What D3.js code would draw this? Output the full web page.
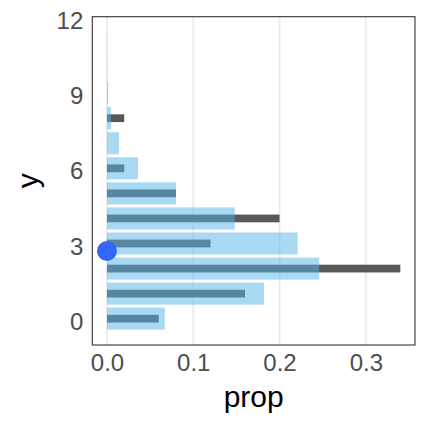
<!DOCTYPE html>
<html>
<head>
<meta charset="utf-8">
<script src="https://cdn.jsdelivr.net/npm/d3@7"></script>
<style>
  body { margin: 0; background: #fff; }
  text { font-family: "Liberation Sans", Arial, sans-serif; }
</style>
</head>
<body>
<div id="chart"></div>
<script>
// counts 0..11
var counts = [0, 1, 2, 3, 4, 5, 6, 7, 8, 9, 10, 11];
// light blue bars (model probabilities)
var modelProp = [0.067, 0.182, 0.246, 0.221, 0.148, 0.080, 0.036, 0.014, 0.0047, 0.0014, 0.0004, 0.0001];
// dark bars (observed proportions)
var obsProp = [0.06, 0.16, 0.34, 0.12, 0.20, 0.08, 0.02, 0, 0.02, 0, 0, 0];
// mean marker
var meanY = [2.7];

var xTicks = [0, 0.1, 0.2, 0.3];
var yTicks = [0, 3, 6, 9, 12];

var W = 432, H = 432;
var margin = {top: 16.7, right: 17, bottom: 87, left: 92.3};

var svg = d3.select('#chart').append('svg')
    .attr('width', W)
    .attr('height', H);

var x = d3.scaleLinear()
    .domain([-0.017, 0.357])
    .range([margin.left, W - margin.right]);

var y = d3.scaleLinear()
    .domain([-1.05, 12.05])
    .range([H - margin.bottom, margin.top]);

var unit = Math.abs(y(1) - y(0));

// vertical grid lines
svg.selectAll('line.grid')
    .data(xTicks)
    .enter()
  .append('line')
    .attr('class', 'grid')
    .attr('x1', function(d) { return x(d); })
    .attr('x2', function(d) { return x(d); })
    .attr('y1', margin.top)
    .attr('y2', H - margin.bottom)
    .attr('stroke', '#ebebeb')
    .attr('stroke-width', 1.8);

// observed bars (narrow, dark)
var obsH = 0.31 * unit;
svg.selectAll('rect.obs')
    .data(counts)
    .enter()
  .append('rect')
    .attr('class', 'obs')
    .attr('x', x(0))
    .attr('y', function(d) { return y(d) - obsH / 2; })
    .attr('width', function(d, i) { return x(obsProp[i]) - x(0); })
    .attr('height', obsH)
    .attr('fill', '#595959');

// model bars (wide, translucent)
var modH = 0.88 * unit;
svg.selectAll('rect.model')
    .data(counts)
    .enter()
  .append('rect')
    .attr('class', 'model')
    .attr('x', x(0))
    .attr('y', function(d) { return y(d) - modH / 2; })
    .attr('width', function(d, i) { return x(modelProp[i]) - x(0); })
    .attr('height', modH)
    .attr('fill', '#56B4E9')
    .attr('fill-opacity', 0.5);

// mean point
svg.selectAll('circle.mean')
    .data(meanY)
    .enter()
  .append('circle')
    .attr('class', 'mean')
    .attr('cx', x(0))
    .attr('cy', function(d) { return y(d); })
    .attr('r', 10)
    .attr('fill', '#3366FF');

// panel border
svg.append('rect')
    .attr('x', margin.left)
    .attr('y', margin.top)
    .attr('width', W - margin.right - margin.left)
    .attr('height', H - margin.bottom - margin.top)
    .attr('fill', 'none')
    .attr('stroke', '#333333')
    .attr('stroke-width', 1.1);

// axes (no tick marks, just labels)
var xAxis = d3.axisBottom(x)
    .tickValues(xTicks)
    .tickFormat(d3.format('.1f'))
    .tickSize(0)
    .tickPadding(0);
var gx = svg.append('g')
    .attr('transform', 'translate(0,' + (H - margin.bottom) + ')')
    .call(xAxis);
gx.select('.domain').remove();
gx.selectAll('text')
    .attr('dy', null)
    .attr('y', 26)
    .attr('fill', '#4d4d4d')
    .style('font-size', '24px');

var yAxis = d3.axisLeft(y)
    .tickValues(yTicks)
    .tickSize(0)
    .tickPadding(0);
var gy = svg.append('g')
    .attr('transform', 'translate(' + margin.left + ',0)')
    .call(yAxis);
gy.select('.domain').remove();
gy.selectAll('text')
    .attr('dy', null)
    .attr('x', -9)
    .attr('y', 10.5)
    .attr('fill', '#4d4d4d')
    .style('font-size', '24px');

// axis titles
svg.append('text')
    .attr('x', (margin.left + W - margin.right) / 2)
    .attr('y', 407)
    .attr('text-anchor', 'middle')
    .style('font-size', '30px')
    .attr('fill', '#000')
    .text('prop');

svg.append('text')
    .attr('transform', 'translate(38,' + ((margin.top + H - margin.bottom) / 2) + ') rotate(-90)')
    .attr('text-anchor', 'middle')
    .style('font-size', '30px')
    .attr('fill', '#000')
    .text('y');
</script>
</body>
</html>
